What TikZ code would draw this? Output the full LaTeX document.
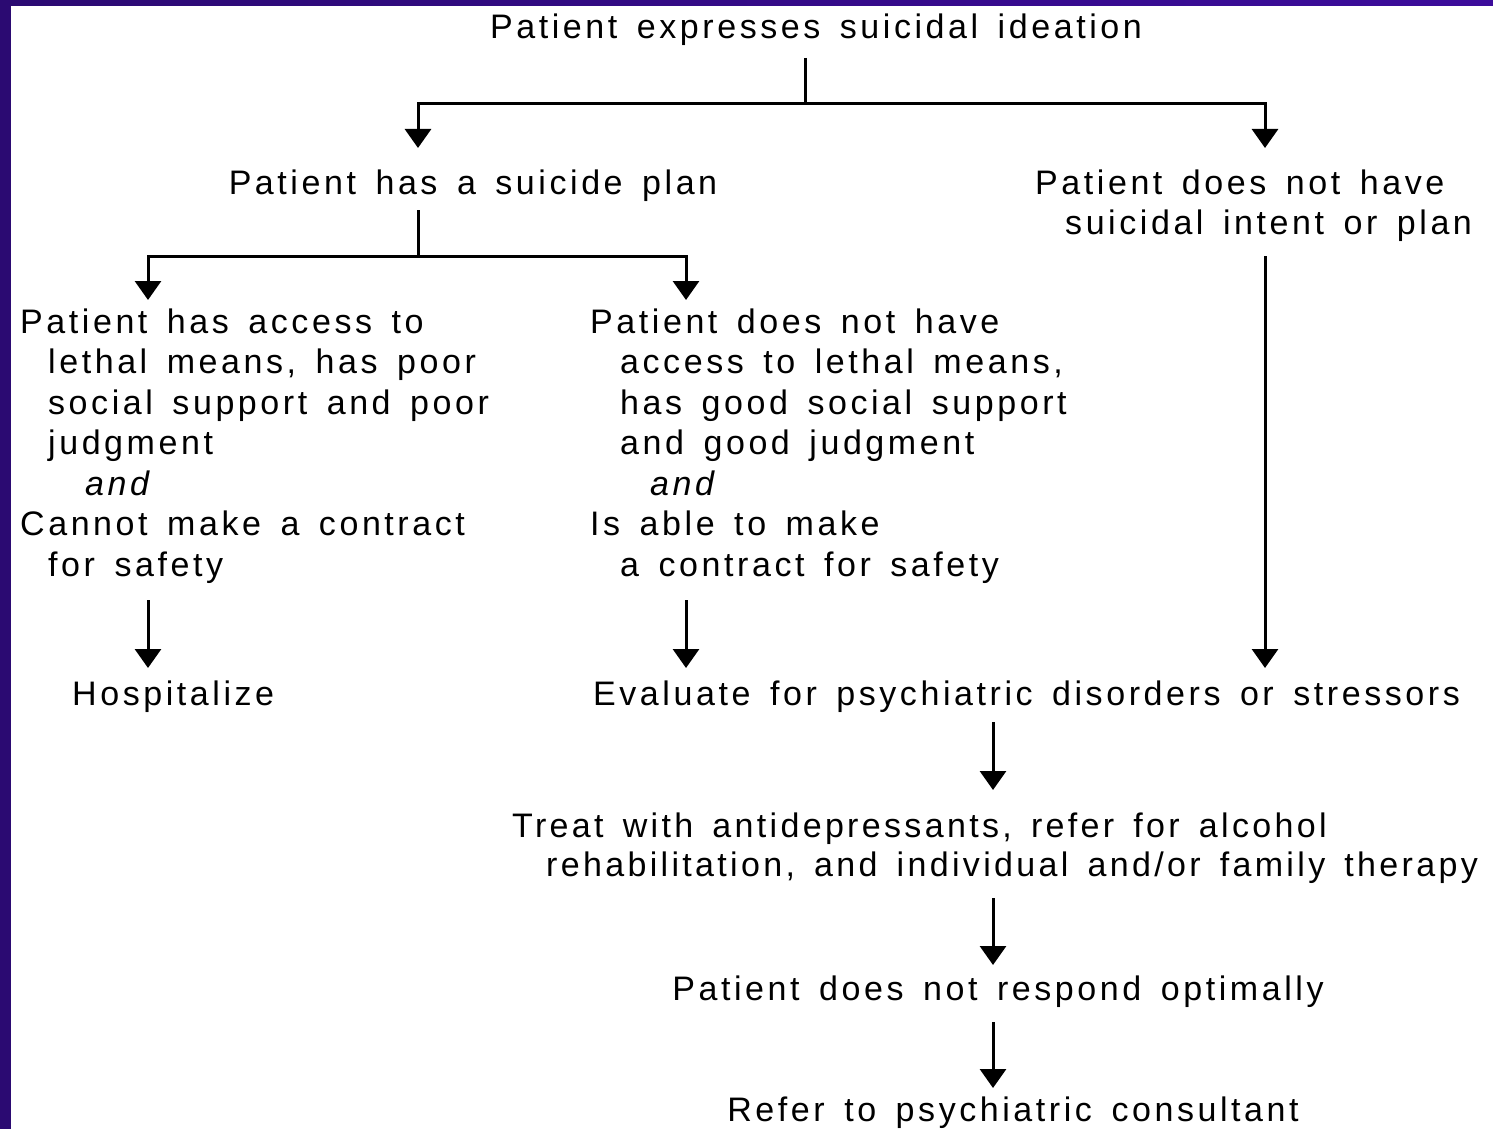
\documentclass[tikz,border=0pt]{standalone}
\usepackage{fontspec}
\setmainfont{Liberation Sans}[LetterSpace=10.5, WordSpace=1.5]
\usetikzlibrary{arrows.meta}
\definecolor{frameL}{RGB}{43,10,114}
\definecolor{frameR}{RGB}{60,12,155}
\tikzset{
  txt/.style={anchor=base west, inner sep=0pt, font=\fontsize{34}{40.5}\selectfont},
  ctxt/.style={anchor=base, inner sep=0pt, font=\fontsize{34}{40.5}\selectfont},
  itxt/.style={txt, font=\fontsize{34}{40.5}\selectfont\itshape},
  tighttxt/.style={txt, font=\fontsize{34}{40.5}\selectfont\addfontfeatures{LetterSpace=9.8}},
  conn/.style={line width=3pt, draw=black},
  arr/.style={conn, -{Triangle[width=26pt,length=19pt]}}
}
\begin{document}
\begin{tikzpicture}[x=1pt,y=-1pt]
\useasboundingbox (0,0) rectangle (1493,1129);
\fill[white] (0,0) rectangle (1493,1129);
\shade[left color=frameL, right color=frameR] (0,0) rectangle (1493,6);
\fill[frameL] (0,0) rectangle (11,1129);

% nodes
\node[ctxt] (title) at (816,39) {Patient expresses suicidal ideation};
\node[ctxt] (plan) at (473,194) {Patient has a suicide plan};
\node[txt] (noplan1) at (1035,194) {Patient does not have};
\node[txt] (noplan2) at (1065,234) {suicidal intent or plan};

\node[txt] (acc1) at (20,333) {Patient has access to};
\node[txt] (acc2) at (48,373.5) {lethal means, has poor};
\node[txt] (acc3) at (48,414) {social support and poor};
\node[txt] (acc4) at (48,454.5) {judgment};
\node[itxt] (acc5) at (85,495) {and};
\node[txt] (acc6) at (20,535.5) {Cannot make a contract};
\node[txt] (acc7) at (48,576) {for safety};

\node[txt] (nac1) at (590,333) {Patient does not have};
\node[txt] (nac2) at (620,373.5) {access to lethal means,};
\node[txt] (nac3) at (620,414) {has good social support};
\node[txt] (nac4) at (620,454.5) {and good judgment};
\node[itxt] (nac5) at (650,495) {and};
\node[txt] (nac6) at (590,535.5) {Is able to make};
\node[txt] (nac7) at (620,576) {a contract for safety};

\node[txt] (hosp) at (72,705) {Hospitalize};
\node[txt] (eval) at (593,705) {Evaluate for psychiatric disorders or stressors};
\node[tighttxt] (treat1) at (512,837) {Treat with antidepressants, refer for alcohol};
\node[tighttxt] (treat2) at (546,876) {rehabilitation, and individual and/or family therapy};
\node[ctxt] (resp) at (998,1000) {Patient does not respond optimally};
\node[ctxt] (refer) at (1013,1121) {Refer to psychiatric consultant};

% connector points
\coordinate (tS) at (805,58);
\coordinate (tJ) at (805,104);
\coordinate (planIn) at (418,148);
\coordinate (noplanIn) at (1265,148);
\coordinate (planS) at (418,210);
\coordinate (planJ) at (418,256);
\coordinate (accIn) at (148,300);
\coordinate (nacIn) at (686,300);
\coordinate (noplanS) at (1265,256);
\coordinate (evalInR) at (1265,668);
\coordinate (accS) at (148,600);
\coordinate (hospIn) at (148,668);
\coordinate (nacS) at (686,600);
\coordinate (evalInL) at (686,668);
\coordinate (evalS) at (993,722);
\coordinate (treatIn) at (993,790);
\coordinate (treatS) at (993,898);
\coordinate (respIn) at (993,965);
\coordinate (respS) at (993,1022);
\coordinate (referIn) at (993,1088);

% connectors
\draw[conn] (tS) -- (tJ);
\draw[arr] (tJ) -| (planIn);
\draw[arr] (tJ) -| (noplanIn);
\draw[conn] (planS) -- (planJ);
\draw[arr] (planJ) -| (accIn);
\draw[arr] (planJ) -| (nacIn);
\draw[arr] (noplanS) -- (evalInR);
\draw[arr] (accS) -- (hospIn);
\draw[arr] (nacS) -- (evalInL);
\draw[arr] (evalS) -- (treatIn);
\draw[arr] (treatS) -- (respIn);
\draw[arr] (respS) -- (referIn);
\end{tikzpicture}
\end{document}
